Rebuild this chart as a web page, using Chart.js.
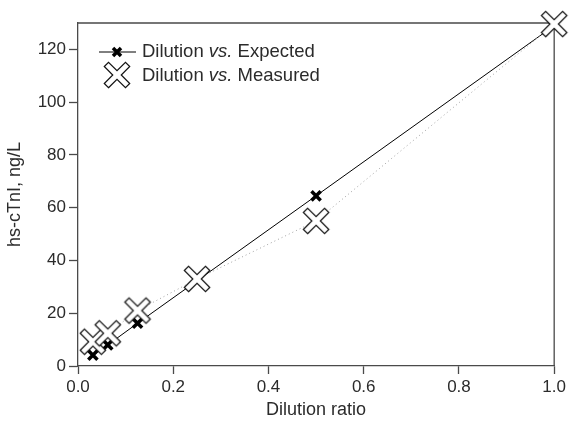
<!DOCTYPE html>
<html>
<head>
<meta charset="utf-8">
<script src="https://cdn.jsdelivr.net/npm/chart.js@4"></script>
<style>
  html, body { margin: 0; padding: 0; background: #fff; }
  #wrap { width: 569px; height: 426px; }
</style>
</head>
<body>
<div id="wrap"><canvas id="dilutionChart" width="569" height="426"></canvas></div>
<script>
// data
var expectedRatio = [0.03125, 0.0625, 0.125, 0.5, 1.0];
var expectedValue = [4.1, 8.0, 16.2, 64.5, 129.0];
var measuredRatio = [0.03125, 0.0625, 0.125, 0.25, 0.5, 1.0];
var measuredValue = [9.2, 12.4, 21.0, 33.0, 55.0, 129.6];
var xTicks = [0, 0.2, 0.4, 0.6, 0.8, 1.0];
var yTicks = [0, 20, 40, 60, 80, 100, 120];

var FONT = 'Liberation Sans, Arial, Helvetica, sans-serif';
var TEXT = '#2b2b2b';
var AXIS = '#4a4a4a';

function toPoints(xs, ys) {
  return xs.map(function (x, i) { return { x: x, y: ys[i] }; });
}

// big hollow "X" marker, white inside with a thin black outline
function hollowX(w, L) {
  var half = Math.ceil((L + w) / Math.SQRT2) + 2;
  var c = document.createElement('canvas');
  c.width = c.height = half * 2;
  var g = c.getContext('2d');
  var pts = [[w, L], [w, w], [L, w], [L, -w], [w, -w], [w, -L],
             [-w, -L], [-w, -w], [-L, -w], [-L, w], [-w, w], [-w, L]];
  g.translate(half, half);
  g.rotate(Math.PI / 4);
  g.beginPath();
  pts.forEach(function (p, i) { i ? g.lineTo(p[0], p[1]) : g.moveTo(p[0], p[1]); });
  g.closePath();
  g.fillStyle = '#fff';
  g.fill();
  g.lineWidth = 1.2;
  g.strokeStyle = '#111';
  g.stroke();
  return c;
}
var bigX = hollowX(3, 15);

// top and right sides of the frame + the legend inside the plot
var framePlugin = {
  id: 'frame',
  beforeDatasetsDraw: function (chart) {
    var a = chart.chartArea, ctx = chart.ctx;
    ctx.save();
    ctx.strokeStyle = AXIS;
    ctx.lineWidth = 1.3;
    ctx.beginPath();
    ctx.moveTo(a.left, a.top);
    ctx.lineTo(a.right, a.top);
    ctx.lineTo(a.right, a.bottom);
    ctx.stroke();
    ctx.restore();
  },
  afterDraw: function (chart) {
    var ctx = chart.ctx;
    var rows = [
      { y: 52, pre: 'Dilution ', it: 'vs.', post: ' Expected' },
      { y: 76, pre: 'Dilution ', it: 'vs.', post: ' Measured' }
    ];
    ctx.save();
    // sample for expected: line + small bold x
    ctx.strokeStyle = '#000';
    ctx.lineWidth = 1;
    ctx.beginPath();
    ctx.moveTo(99, 52);
    ctx.lineTo(136, 52);
    ctx.stroke();
    ctx.lineWidth = 3.5;
    ctx.beginPath();
    ctx.moveTo(113, 48); ctx.lineTo(121, 56);
    ctx.moveTo(121, 48); ctx.lineTo(113, 56);
    ctx.stroke();
    // sample for measured
    ctx.drawImage(bigX, 117 - bigX.width / 2, 75 - bigX.height / 2);

    ctx.fillStyle = TEXT;
    ctx.textBaseline = 'middle';
    rows.forEach(function (r) {
      var x = 142;
      ctx.font = '18.5px ' + FONT;
      ctx.fillText(r.pre, x, r.y);
      x += ctx.measureText(r.pre).width;
      ctx.font = 'italic 18.5px ' + FONT;
      ctx.fillText(r.it, x, r.y);
      x += ctx.measureText(r.it).width;
      ctx.font = '18.5px ' + FONT;
      ctx.fillText(r.post, x, r.y);
    });
    ctx.restore();
  }
};

var ctx = document.getElementById('dilutionChart');
var chart = new Chart(ctx, {
  type: 'scatter',
  data: {
    datasets: [{
      label: 'Dilution vs. Measured',
      data: toPoints(measuredRatio, measuredValue),
      showLine: true,
      borderColor: '#a0a0a0',
      borderWidth: 1,
      borderDash: [1, 3],
      pointStyle: bigX,
      pointRadius: 13,
      pointHoverRadius: 13,
      clip: false,
      order: 0
    }, {
      label: 'Dilution vs. Expected',
      data: toPoints(expectedRatio, expectedValue),
      showLine: true,
      borderColor: '#000',
      borderWidth: 1,
      pointStyle: 'crossRot',
      pointRadius: 6.5,
      pointBorderWidth: 3.5,
      pointBorderColor: '#000',
      clip: false,
      order: 1
    }]
  },
  options: {
    responsive: false,
    animation: false,
    layout: { padding: { left: 0, right: 13, top: 23, bottom: 0 } },
    plugins: {
      legend: { display: false },
      tooltip: { enabled: false }
    },
    scales: {
      x: {
        type: 'linear',
        min: 0,
        max: 1,
        afterBuildTicks: function (s) { s.ticks = xTicks.map(function (v) { return { value: v }; }); },
        afterFit: function (s) { s.height = 60; },
        ticks: {
          color: TEXT,
          font: { family: FONT, size: 17 },
          padding: 3,
          callback: function (v) { return v.toFixed(1); }
        },
        grid: { drawOnChartArea: false, tickLength: 8, color: AXIS, tickWidth: 1.3 },
        border: { color: AXIS, width: 1.3 },
        title: {
          display: true,
          text: 'Dilution ratio',
          color: TEXT,
          font: { family: FONT, size: 18 },
          padding: { top: 0, bottom: 5 }
        }
      },
      y: {
        type: 'linear',
        min: 0,
        max: 130,
        afterBuildTicks: function (s) { s.ticks = yTicks.map(function (v) { return { value: v }; }); },
        afterFit: function (s) { s.width = 78; },
        ticks: {
          color: TEXT,
          font: { family: FONT, size: 17 },
          padding: 3
        },
        grid: { drawOnChartArea: false, tickLength: 9, color: AXIS, tickWidth: 1.3 },
        border: { color: AXIS, width: 1.3 },
        title: {
          display: true,
          text: 'hs-cTnI, ng/L',
          color: TEXT,
          font: { family: FONT, size: 18 },
          padding: { top: 4, bottom: 0 }
        }
      }
    }
  },
  plugins: [framePlugin]
});
</script>
</body>
</html>
